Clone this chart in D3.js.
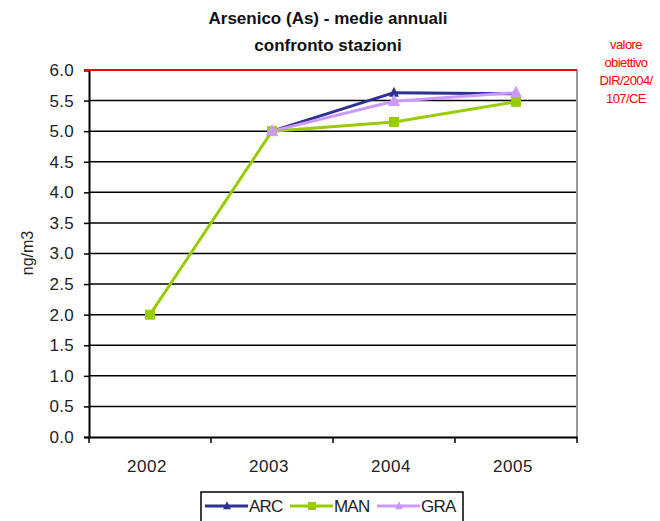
<!DOCTYPE html>
<html><head><meta charset="utf-8">
<script src="https://cdn.jsdelivr.net/npm/d3@7"></script>
<style>body{margin:0;background:#fff}svg{display:block;font-family:"Liberation Sans",Arial,sans-serif}</style>
</head><body><svg id="c" width="660" height="521"></svg>
<script>
const years = ["2002","2003","2004","2005"];
const arc = [null, 5.0, 5.63, 5.61];
const man = [2.0, 5.0, 5.15, 5.48];
const gra = [null, 5.0, 5.49, 5.63];
const yTicks = [0,0.5,1,1.5,2,2.5,3,3.5,4,4.5,5,5.5,6];
const target = 6.0;
const series = [
  {name:"ARC", values:arc, color:"#2e3192", marker:"tri", size:5},
  {name:"MAN", values:man, color:"#99cc00", marker:"sq", size:5},
  {name:"GRA", values:gra, color:"#cc99ff", marker:"tri", size:6}
];
const annotation = ["valore","obiettivo","DIR/2004/","107/CE"];

const svg = d3.select("#c");
const L=89, R=577, T=70, B=437;
const x = d3.scaleBand().domain(years).range([L,R]);
const y = d3.scaleLinear().domain([0,6]).range([B,T]);
const FONT = "Liberation Sans, Arial, sans-serif";

// title
svg.append("text").attr("x",328).attr("y",24).attr("text-anchor","middle")
  .attr("font-size",17).attr("font-weight","bold").attr("fill","#111").text("Arsenico (As) - medie annuali");
svg.append("text").attr("x",328).attr("y",51).attr("text-anchor","middle")
  .attr("font-size",17).attr("font-weight","bold").attr("fill","#111").text("confronto stazioni");

// grid
svg.append("g").selectAll("line").data(yTicks.filter(d=>d>0 && d<6)).join("line")
  .attr("x1",L).attr("x2",R).attr("y1",d=>y(d)).attr("y2",d=>y(d))
  .attr("stroke","#000").attr("stroke-width",1.5);
// right border
svg.append("line").attr("x1",R).attr("x2",R).attr("y1",T).attr("y2",B)
  .attr("stroke","#999").attr("stroke-width",2);

// y axis
const ya = svg.append("g").attr("transform",`translate(${L},0)`)
  .call(d3.axisLeft(y).tickValues(yTicks).tickFormat(d3.format(".1f")).tickSize(5).tickPadding(10));
ya.select(".domain").attr("stroke","#000").attr("stroke-width",2);
ya.selectAll(".tick line").attr("stroke","#000").attr("stroke-width",1.5);
ya.selectAll("text").attr("font-size",17).attr("fill","#222").attr("font-family",FONT).attr("letter-spacing",0.3);

// x axis
const xa = svg.append("g").attr("transform",`translate(-3,${B})`)
  .call(d3.axisBottom(x).tickSize(0).tickPadding(23));
xa.select(".domain").attr("stroke","#000").attr("stroke-width",2).attr("transform","translate(3,0)");
xa.selectAll("text").attr("font-size",17).attr("fill","#222").attr("font-family",FONT).attr("letter-spacing",0.6);
svg.append("g").selectAll("line").data(years.map(d=>x(d)).concat([R])).join("line")
  .attr("x1",d=>d).attr("x2",d=>d).attr("y1",B).attr("y2",B+6).attr("stroke","#000").attr("stroke-width",1.5);

// target line
svg.append("line").attr("x1",L-4).attr("x2",R).attr("y1",y(target)).attr("y2",y(target))
  .attr("stroke","#ff0000").attr("stroke-width",2);
svg.append("g").selectAll("text").data(annotation).join("text")
  .attr("x",626).attr("y",(d,i)=>49+i*18).attr("text-anchor","middle")
  .attr("font-size",13).attr("fill","#ff0000").attr("letter-spacing",-0.6).text(d=>d);

// y label
svg.append("text").attr("transform","translate(33,253) rotate(-90)").attr("text-anchor","middle")
  .attr("font-size",16).attr("fill","#222").text("ng/m3");

function marker(g, type, cx, cy, s, color){
  if(type==="sq"){
    g.append("rect").attr("x",cx-s).attr("y",cy-s).attr("width",2*s).attr("height",2*s).attr("fill",color);
  } else {
    g.append("path").attr("d",`M${cx},${cy-s*1.2}L${cx+s},${cy+s*0.8}L${cx-s},${cy+s*0.8}Z`).attr("fill",color);
  }
}

const line = d3.line().defined(d=>d.v!=null).x(d=>x(d.k)+x.bandwidth()/2).y(d=>y(d.v));
series.forEach(s=>{
  const pts = years.map((k,i)=>({k, v:s.values[i]}));
  const g = svg.append("g");
  g.append("path").datum(pts).attr("d",line).attr("fill","none")
    .attr("stroke",s.color).attr("stroke-width",3).attr("stroke-linejoin","round");
  pts.filter(p=>p.v!=null).forEach(p=>marker(g,s.marker,x(p.k)+x.bandwidth()/2,y(p.v),s.size,s.color));
});

// legend
const lg = svg.append("g");
lg.append("rect").attr("x",201).attr("y",492).attr("width",262).attr("height",40)
  .attr("fill","#fff").attr("stroke","#000").attr("stroke-width",1.5);
const lx = [205, 290, 377];
series.forEach((s,i)=>{
  lg.append("line").attr("x1",lx[i]).attr("x2",lx[i]+43).attr("y1",506).attr("y2",506)
    .attr("stroke",s.color).attr("stroke-width",3);
  marker(lg, s.marker, lx[i]+22, 506, 4, s.color);
  lg.append("text").attr("x",lx[i]+44).attr("y",512).attr("font-size",17).attr("fill","#222")
    .attr("letter-spacing",-0.8).text(s.name);
});
</script></body></html>
